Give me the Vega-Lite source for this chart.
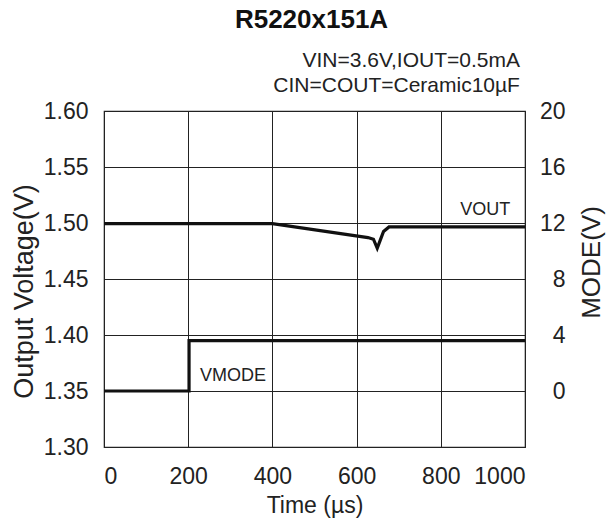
{
  "$schema": "https://vega.github.io/schema/vega-lite/v6.json",
  "autosize": {"type": "none"},
  "padding": {"left": 104, "top": 111, "right": 81, "bottom": 73},
  "width": 421,
  "height": 336,
  "background": "white",
  "config": {
    "font": "Liberation Sans",
    "view": {"stroke": "#222", "strokeWidth": 1.2},
    "axis": {"labelFont": "Liberation Sans", "titleFont": "Liberation Sans", "labelColor": "#222", "titleColor": "#222", "labelFontSize": 23, "titleFontSize": 23, "titleFontWeight": "normal", "ticks": false, "domain": false, "gridColor": "#222", "gridOpacity": 1, "gridWidth": 1}
  },
  "title": {"text": "R5220x151A", "font": "Liberation Sans", "fontSize": 26, "fontWeight": "bold", "color": "#111", "anchor": "middle", "frame": "group", "offset": -4, "baseline": "alphabetic", "dx": -3},
  "datasets": {
    "vout": [
      {"t": 0, "v": 1.4995},
      {"t": 400, "v": 1.4995},
      {"t": 627, "v": 1.487},
      {"t": 640, "v": 1.4855},
      {"t": 649, "v": 1.4775},
      {"t": 656, "v": 1.4845},
      {"t": 664, "v": 1.4925},
      {"t": 677, "v": 1.4965},
      {"t": 1000, "v": 1.4965}
    ],
    "mode": [
      {"t": 0, "m": 0},
      {"t": 202, "m": 0},
      {"t": 202, "m": 3.6},
      {"t": 1000, "m": 3.6}
    ],
    "labels": [
      {"t": 846, "v": 1.507, "text": "VOUT"},
      {"t": 228, "v": 1.359, "text": "VMODE"}
    ],
    "notes": [
      {"t": 988, "v": 1.639, "text": "VIN=3.6V,IOUT=0.5mA"},
      {"t": 988, "v": 1.617, "text": "CIN=COUT=Ceramic10µF"}
    ]
  },
  "layer": [
    {
      "layer": [
        {
          "data": {"name": "vout"},
          "mark": {"type": "line", "color": "#111", "strokeWidth": 3.2, "clip": true},
          "encoding": {
            "x": {"field": "t", "type": "quantitative", "scale": {"domain": [0, 1000]}, "axis": {"values": [0, 200, 400, 600, 800, 1000], "format": "d", "title": "Time (µs)", "labelPadding": 18, "grid": true, "titleY": 65, "titleBaseline": "alphabetic"}},
            "y": {"field": "v", "type": "quantitative", "scale": {"domain": [1.3, 1.6], "zero": false}, "axis": {"values": [1.3, 1.35, 1.4, 1.45, 1.5, 1.55, 1.6], "format": ".2f", "title": "Output Voltage(V)", "titleFontSize": 27, "labelPadding": 16, "grid": true, "titleX": -80, "titleY": 180, "titleAlign": "center", "titleBaseline": "middle", "titleAngle": 270}}
          }
        },
        {
          "data": {"name": "labels"},
          "mark": {"type": "text", "align": "left", "baseline": "alphabetic", "fontSize": 18, "color": "#222", "font": "Liberation Sans"},
          "encoding": {
            "x": {"field": "t", "type": "quantitative"},
            "y": {"field": "v", "type": "quantitative"},
            "text": {"field": "text"}
          }
        },
        {
          "data": {"name": "notes"},
          "mark": {"type": "text", "align": "right", "baseline": "alphabetic", "fontSize": 21, "color": "#222", "font": "Liberation Sans", "clip": false},
          "encoding": {
            "x": {"field": "t", "type": "quantitative"},
            "y": {"field": "v", "type": "quantitative"},
            "text": {"field": "text"}
          }
        }
      ]
    },
    {
      "data": {"name": "mode"},
      "mark": {"type": "line", "color": "#111", "strokeWidth": 3.2},
      "encoding": {
        "x": {"field": "t", "type": "quantitative"},
        "y": {"field": "m", "type": "quantitative", "scale": {"domain": [-4, 20]}, "axis": {"orient": "right", "values": [0, 4, 8, 12, 16, 20], "title": "MODE(V)", "titleFontSize": 26, "grid": false, "labelAlign": "right", "labelPadding": 40, "titleX": 66, "titleY": 151, "titleAlign": "center", "titleBaseline": "middle", "titleAngle": 270}}
      }
    }
  ],
  "resolve": {"scale": {"y": "independent"}}
}
